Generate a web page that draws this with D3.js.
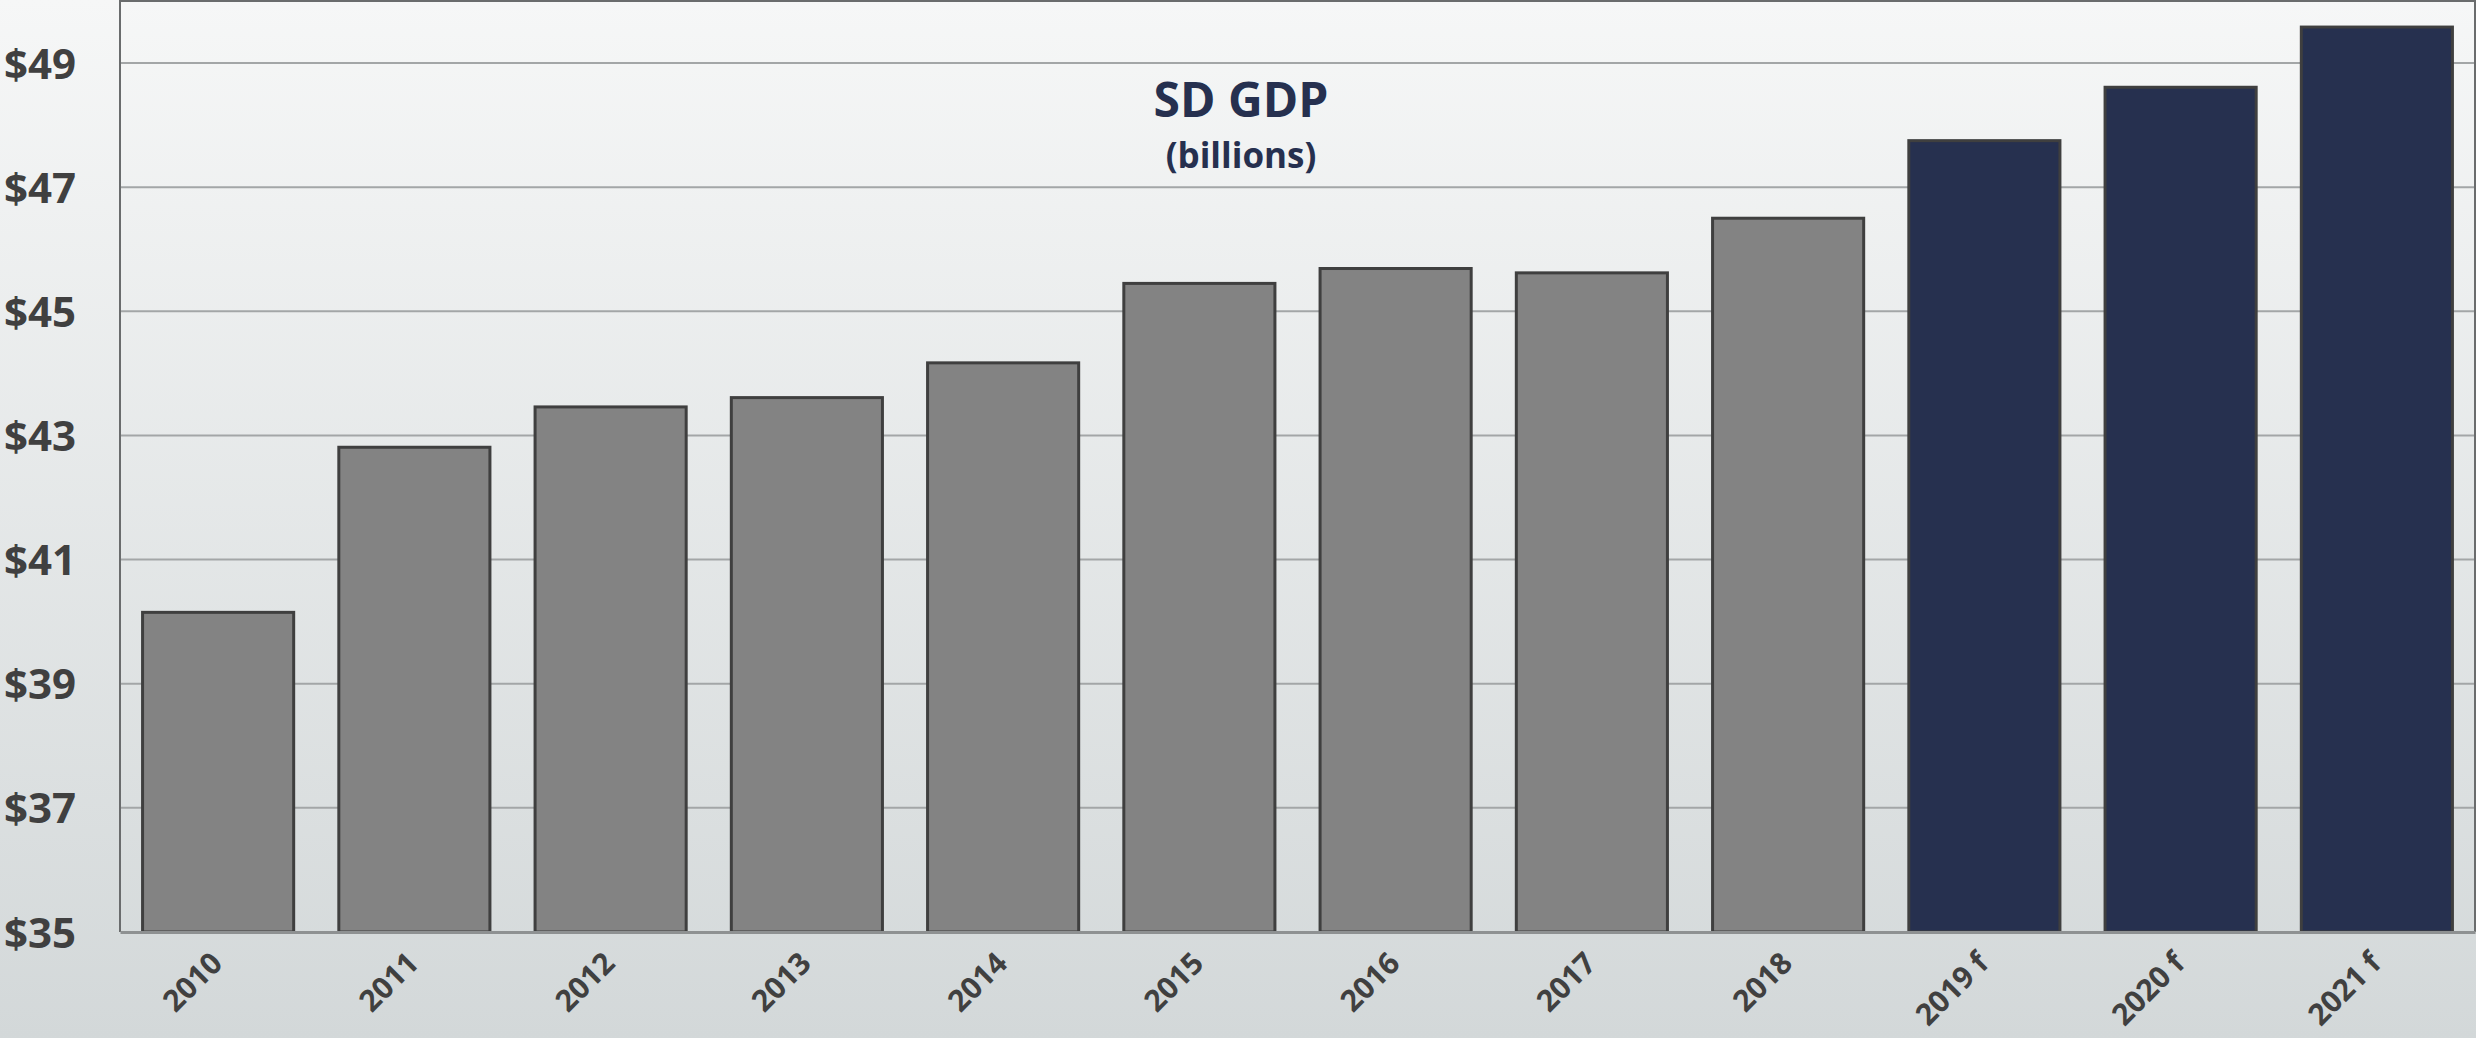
<!DOCTYPE html>
<html><head><meta charset="utf-8">
<script src="https://cdn.jsdelivr.net/npm/d3@7"></script>
<style>html,body{margin:0;padding:0;overflow:hidden;background:#e6e9ea}</style>
</head><body>
<svg id="chart" width="2476" height="1038"></svg>
<script>
// ---- data ----
const categories = ["2010","2011","2012","2013","2014","2015","2016","2017","2018","2019 f","2020 f","2021 f"];
const gdpValues = [40.15, 42.81, 43.46, 43.61, 44.17, 45.45, 45.69, 45.62, 46.50, 47.75, 48.61, 49.58];
const isForecast = [false,false,false,false,false,false,false,false,false,true,true,true];
const yTickValues = [35, 37, 39, 41, 43, 45, 47, 49];
const yDomain = [35, 50];
const titleText = "SD GDP";
const subtitleText = "(billions)";

// ---- layout ----
const W = 2476, H = 1038;
const plot = {left: 120, right: 2475, top: 1, bottom: 932};
const svg = d3.select("#chart");

const defs = svg.append("defs");
const grad = defs.append("linearGradient").attr("id","bg").attr("x1",0).attr("y1",0).attr("x2",0).attr("y2",1);
grad.append("stop").attr("offset","0%").attr("stop-color","#f6f7f7");
grad.append("stop").attr("offset","100%").attr("stop-color","#d3d8d9");
svg.append("rect").attr("width",W).attr("height",H).attr("fill","url(#bg)");

const x = d3.scaleBand().domain(categories).range([plot.left, plot.right]).paddingInner(0.23).paddingOuter(0.115);
const y = d3.scaleLinear().domain(yDomain).range([plot.bottom, plot.top]);

// gridlines
svg.append("g").selectAll("line").data(yTickValues.filter(d => d > yDomain[0]))
  .join("line")
  .attr("x1", plot.left).attr("x2", plot.right)
  .attr("y1", d => y(d)).attr("y2", d => y(d))
  .attr("stroke", "#a3a6a7").attr("stroke-width", 2);

// y axis labels
const yAxis = d3.axisLeft(y).tickValues(yTickValues).tickSize(0).tickPadding(0).tickFormat(d => "$" + d);
const gy = svg.append("g").attr("transform", `translate(${76},0)`).call(yAxis);
gy.select(".domain").remove();
gy.selectAll("text")
  .attr("font-family", "'Open Sans', sans-serif")
  .attr("font-weight", 700)
  .attr("font-size", 42)
  .attr("fill", "#404040")
  .attr("dy", "0.36em");

// bars
svg.append("g").selectAll("rect").data(categories)
  .join("rect")
  .attr("x", d => x(d))
  .attr("width", x.bandwidth())
  .attr("y", (d,i) => y(gdpValues[i]))
  .attr("height", (d,i) => y(yDomain[0]) - y(gdpValues[i]))
  .attr("fill", (d,i) => isForecast[i] ? "#26304f" : "#838383")
  .attr("stroke", "#3f3f3f")
  .attr("stroke-width", 3);

// plot border (top, left, right)
svg.append("path")
  .attr("d", `M${plot.left},${plot.bottom} V${plot.top} H${plot.right} V${plot.bottom}`)
  .attr("fill","none").attr("stroke","#6a6c6d").attr("stroke-width",2);

// x axis
const xAxis = d3.axisBottom(x).tickSize(0).tickPadding(0);
const gx = svg.append("g").attr("transform", `translate(0,${plot.bottom})`).call(xAxis);
gx.select(".domain").attr("stroke","#8e9192").attr("stroke-width",3);
gx.selectAll("text")
  .attr("font-family", "'Open Sans', sans-serif")
  .attr("font-weight", 700)
  .attr("font-size", 30)
  .attr("fill", "#404040")
  .attr("text-anchor", "end")
  .attr("dy", null)
  .attr("y", null)
  .attr("transform", "translate(6,33) rotate(-45)");

// title
svg.append("text").attr("x", 1241).attr("y", 117)
  .attr("text-anchor","middle")
  .attr("font-family","'Open Sans', sans-serif").attr("font-weight",700)
  .attr("font-size",48).attr("fill","#26304f").text(titleText);
svg.append("text").attr("x", 1241).attr("y", 168)
  .attr("text-anchor","middle")
  .attr("font-family","'Open Sans', sans-serif").attr("font-weight",700)
  .attr("font-size",35).attr("fill","#26304f").text(subtitleText);
</script>
</body></html>
